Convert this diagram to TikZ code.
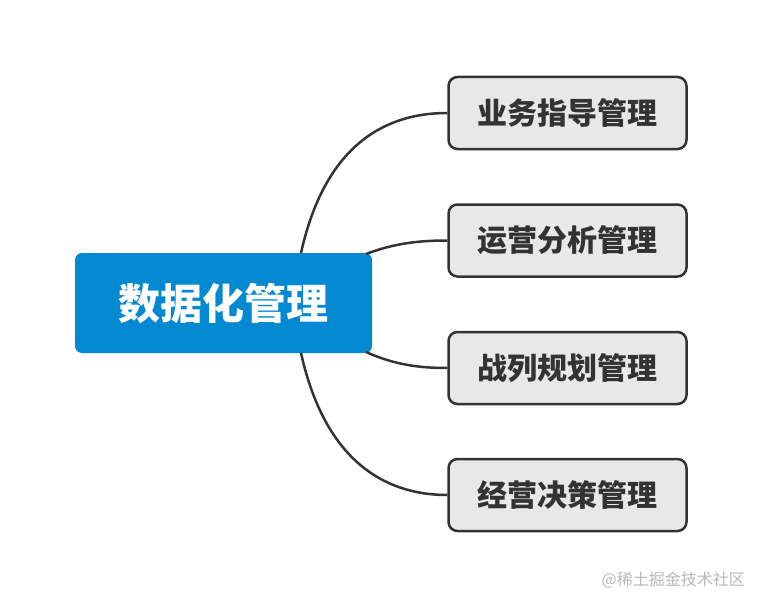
\documentclass[tikz,border=0pt]{standalone}
\usepackage{fontspec}
\newfontfamily\cjk{Noto Sans CJK SC}
\definecolor{mainblue}{HTML}{0388D2}
\definecolor{boxfill}{HTML}{E8E8E8}
\definecolor{boxline}{HTML}{333333}
\definecolor{wm}{HTML}{B8B8B8}
\tikzset{
  rootbox/.style={fill=mainblue, draw=none, rounded corners=7pt, minimum width=297pt, minimum height=100pt, inner sep=0pt, text=white, font=\cjk\bfseries\fontsize{42}{42}\selectfont},
  leafbox/.style={fill=boxfill, draw=boxline, line width=2.5pt, rounded corners=9pt, minimum width=238pt, minimum height=72pt, inner sep=0pt, text=boxline, font=\cjk\bfseries\fontsize{30}{30}\selectfont},
  link/.style={draw=boxline, line width=2.5pt},
}
\begin{document}
\begin{tikzpicture}[x=1pt,y=-1pt]
\useasboundingbox[fill=white] (0,0) rectangle (762,607);
\node[rootbox] (root) at (223.5,303) {数据化管理};
\node[leafbox] (a) at (567.5,113) {业务指导管理};
\node[leafbox] (b) at (567.5,240.5) {运营分析管理};
\node[leafbox] (c) at (567.5,368) {战列规划管理};
\node[leafbox] (d) at (567.5,495) {经营决策管理};
\coordinate (r1) at (301,253);
\coordinate (r2) at (366,254);
\coordinate (r3) at (366,352);
\coordinate (r4) at (301,353);
\draw[link] (r1) .. controls (325,145) and (385,113) .. (a.west);
\draw[link] (r2) .. controls (395,243) and (420,240.5) .. (b.west);
\draw[link] (r3) .. controls (395,365) and (420,368) .. (c.west);
\draw[link] (r4) .. controls (325,461) and (385,495) .. (d.west);
\node[text=wm, font=\cjk\fontsize{16}{16}\selectfont, anchor=east, inner sep=0pt] (wmk) at (745,580) {@稀土掘金技术社区};
\end{tikzpicture}
\end{document}
